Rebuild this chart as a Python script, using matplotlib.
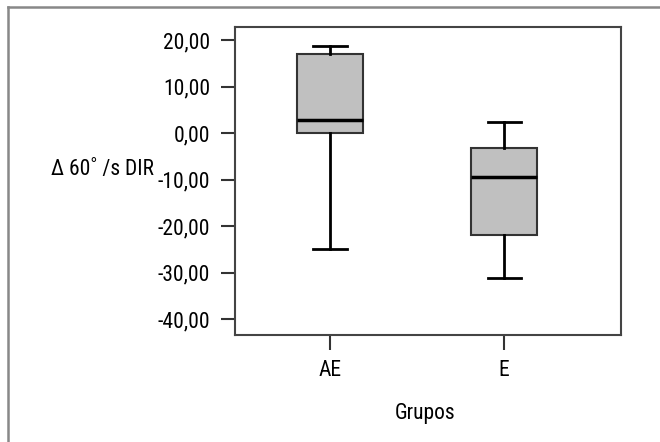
import matplotlib
matplotlib.use("Agg")
import matplotlib.pyplot as plt
from matplotlib import font_manager
from matplotlib.lines import Line2D

categories = ["AE", "E"]
whis_low = [-25.0, -31.2]
q1 = [0.0, -21.9]
median = [2.8, -9.4]
q3 = [17.1, -3.2]
whis_high = [18.8, 2.4]
yticks = [20, 10, 0, -10, -20, -30, -40]

fonts = font_manager.fontManager.ttflist
names = {f.name for f in fonts}
cands = ["Roboto Condensed", "Liberation Sans Narrow", "DejaVu Sans Condensed",
         "Open Sans Condensed", "Noto Sans Condensed"]
fam = [f for f in cands if f in names]
stretch = "normal"
if not fam:
    cond = [f.name for f in fonts if str(f.stretch) in ("condensed", "semi-condensed", "extra-condensed") or
            (isinstance(f.stretch, int) and f.stretch < 500)]
    if cond:
        fam = [cond[0]]
        stretch = "condensed"
fam = fam + ["Liberation Sans", "DejaVu Sans"]
plt.rcParams['font.family'] = fam
plt.rcParams['font.stretch'] = stretch

fig = plt.figure(figsize=(6.6, 4.42), dpi=100)
W, H = 660, 442
ax = fig.add_axes([235 / W, 1 - 335 / H, (621 - 235) / W, (335 - 27) / H])

stats = []
for i, c in enumerate(categories):
    stats.append(dict(label=c, whislo=whis_low[i], q1=q1[i], med=median[i],
                      q3=q3[i], whishi=whis_high[i], fliers=[]))

ax.bxp(stats, positions=[1, 2], widths=0.38, patch_artist=True, showfliers=False,
       boxprops=dict(facecolor="#c0c0c0", edgecolor="#333333", linewidth=1.5),
       medianprops=dict(color="black", linewidth=2.5),
       whiskerprops=dict(color="black", linewidth=2),
       capprops=dict(color="black", linewidth=2),
       capwidths=0.19)

ax.set_xlim(0.454, 2.672)
ax.set_ylim(-43.4, 22.8)
ax.set_yticks(yticks)
ax.set_yticklabels([f"{v:.2f}".replace(".", ",") for v in yticks])
ax.set_xticks([1, 2])
ax.set_xticklabels(categories)
fs = 15.5
ax.tick_params(axis='y', length=10, width=1.5, pad=8, labelsize=fs, color="#333333")
ax.tick_params(axis='x', length=11, width=1.5, pad=7, labelsize=fs, color="#333333")
for s in ax.spines.values():
    s.set_color("#444444")
    s.set_linewidth(1.5)

fig.text(102 / W, 1 - 170 / H, "Δ 60˚ /s DIR", ha="center", va="center", fontsize=fs)
fig.text(425 / W, 1 - 414 / H, "Grupos", ha="center", va="center", fontsize=fs)

# outer frame (top and left edges visible)
fig.add_artist(Line2D([8 / W, 1.0], [1 - 7 / H, 1 - 7 / H], transform=fig.transFigure,
                      color="#888888", linewidth=1.8))
fig.add_artist(Line2D([8 / W, 8 / W], [0, 1 - 7 / H], transform=fig.transFigure,
                      color="#888888", linewidth=1.8))

fig.savefig("out.png", dpi=100)
